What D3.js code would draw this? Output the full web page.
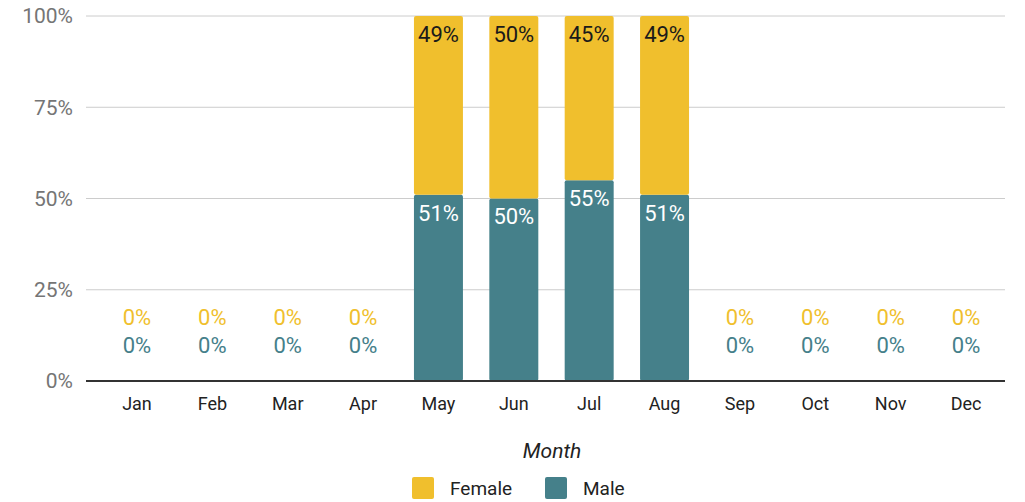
<!DOCTYPE html>
<html>
<head>
<script src="https://d3js.org/d3.v7.min.js"></script>
<style>
  body { margin: 0; background: #fff; }
  svg { font-family: Roboto, sans-serif; }
  .grid line { stroke: #cccccc; stroke-width: 1; }
  .axis.y text { fill: #757575; font-size: 21px; text-anchor: end; }
  .axis.x text { fill: #222; font-size: 18px; }
</style>
</head>
<body>
<svg id="chart" width="1025" height="502"></svg>
<script>
var months = ['Jan','Feb','Mar','Apr','May','Jun','Jul','Aug','Sep','Oct','Nov','Dec'];
var series = ['Male', 'Female'];
var male   = [0, 0, 0, 0, 0.51, 0.50, 0.55, 0.51, 0, 0, 0, 0];
var female = [0, 0, 0, 0, 0.49, 0.50, 0.45, 0.49, 0, 0, 0, 0];
var yTicks = [0, 0.25, 0.5, 0.75, 1];
var colors = { Female: '#f0bf2d', Male: '#45808a' };

var rows = months.map((m, i) => ({ month: m, Male: male[i], Female: female[i] }));
var stacked = d3.stack().keys(series)(rows);

var svg = d3.select('#chart');
var gridLeft = 86, gridRight = 1005;

var x = d3.scaleBand()
  .domain(months)
  .range([99.3, 1003.7])
  .paddingInner(0.35)
  .paddingOuter(0.175);

var y = d3.scaleLinear().domain([0, 1]).range([381, 16]);

// grid
svg.append('g').attr('class', 'grid')
  .selectAll('line').data(yTicks.slice(1)).enter().append('line')
    .attr('x1', gridLeft).attr('x2', gridRight)
    .attr('y1', d => y(d)).attr('y2', d => y(d));

// y axis labels
svg.append('g').attr('class', 'axis y')
  .selectAll('text').data(yTicks).enter().append('text')
    .attr('x', 73).attr('y', d => y(d)).attr('dy', '0.35em')
    .text(d3.format('.0%'));

// bars
var layer = svg.selectAll('.layer').data(stacked).enter().append('g')
  .attr('class', 'layer').attr('fill', d => colors[d.key]);

layer.selectAll('rect').data(d => d.filter(s => s[1] - s[0] > 0)).enter().append('rect')
  .attr('x', d => x(d.data.month))
  .attr('y', d => y(d[1]))
  .attr('width', x.bandwidth())
  .attr('height', d => y(d[0]) - y(d[1]))
  .attr('rx', 2);

// value labels
stacked.forEach(function(s) {
  var key = s.key;
  svg.append('g').selectAll('text').data(s).enter().append('text')
    .attr('x', d => x(d.data.month) + x.bandwidth() / 2)
    .attr('y', function(d) {
      var v = d[1] - d[0];
      if (v === 0) return key === 'Female' ? y(0) - 64 : y(0) - 36;
      return y(d[1]) + 18;
    })
    .attr('dy', '0.35em')
    .attr('text-anchor', 'middle')
    .attr('font-size', 22)
    .attr('fill', function(d) {
      var v = d[1] - d[0];
      if (v === 0) return colors[key];
      return key === 'Female' ? '#1a1a1a' : '#ffffff';
    })
    .text(d => d3.format('.0%')(d[1] - d[0]));
});

// baseline
svg.append('line')
  .attr('x1', gridLeft).attr('x2', gridRight)
  .attr('y1', y(0)).attr('y2', y(0))
  .attr('stroke', '#333').attr('stroke-width', 2);

// x axis labels
svg.append('g').attr('class', 'axis x')
  .selectAll('text').data(months).enter().append('text')
    .attr('x', d => x(d) + x.bandwidth() / 2)
    .attr('y', 404).attr('dy', '0.35em')
    .attr('text-anchor', 'middle')
    .text(d => d);

// axis title
svg.append('text')
  .attr('x', 552).attr('y', 451).attr('dy', '0.35em')
  .attr('text-anchor', 'middle')
  .attr('font-size', 21).attr('font-style', 'italic').attr('fill', '#222')
  .text('Month');

// legend
var legend = [{ key: 'Female', x: 412 }, { key: 'Male', x: 545 }];
var lg = svg.selectAll('.legend').data(legend).enter().append('g')
  .attr('class', 'legend')
  .attr('transform', d => `translate(${d.x}, 477)`);
lg.append('rect').attr('width', 22).attr('height', 22).attr('rx', 2)
  .attr('fill', d => colors[d.key]);
lg.append('text').attr('x', 38).attr('y', 11).attr('dy', '0.35em')
  .attr('font-size', 19).attr('fill', '#222')
  .text(d => d.key);
</script>
</body>
</html>
